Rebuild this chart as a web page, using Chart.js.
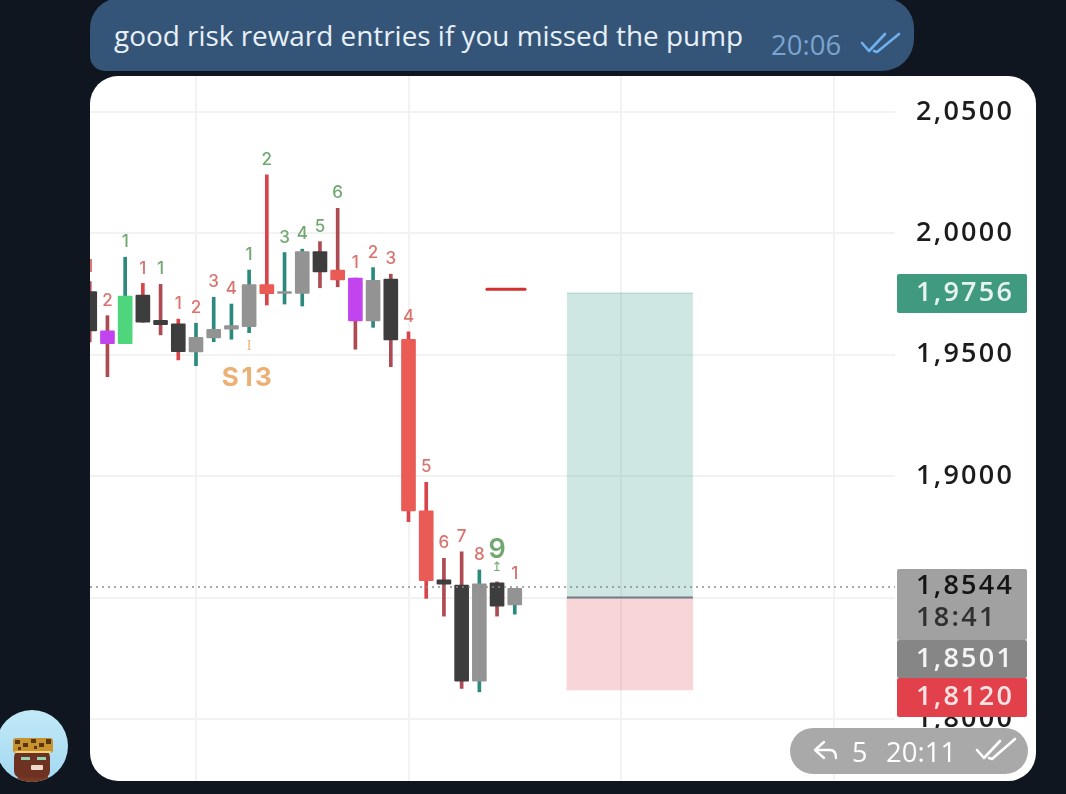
<!DOCTYPE html>
<html>
<head>
<meta charset="utf-8">
<title>good risk reward entries</title>
<script src="https://cdn.jsdelivr.net/npm/chart.js@4"></script>
<style>
html, body { margin: 0; padding: 0; width: 1066px; height: 794px; overflow: hidden; background: #10161f; }
.abs { position: absolute; white-space: nowrap; }
#bubble { left: 90px; top: -2px; width: 824px; height: 73px; background: #345578; border-radius: 30px 30px 32px 15px; }
#message { left: 114px; top: 14px; font: 400 27.9px "Open Sans", sans-serif; color: #e8f0f8; line-height: 42px; }
#sentTime { left: 771px; top: 25px; font: 400 27.5px "Open Sans", sans-serif; color: #7ba5d0; line-height: 40px; }
#card { left: 90px; top: 76px; width: 946px; height: 705px; background: #fff; border-radius: 28px; overflow: hidden; }
#card canvas { display: block; }
#pill { left: 790px; top: 728px; width: 238px; height: 46px; background: #a9a9a9; border-radius: 23px; }
#replyCount { left: 852px; top: 731px; font: 400 27px "Open Sans", sans-serif; color: #fff; line-height: 42px; }
#replyTime { left: 886px; top: 731px; font: 400 27.5px "Open Sans", sans-serif; color: #fff; line-height: 42px; }
svg.abs { overflow: visible; }
</style>
</head>
<body>
<div class="abs" id="bubble"></div>
<div class="abs" id="message">good risk reward entries if you missed the pump</div>
<div class="abs" id="sentTime">20:06</div>
<svg class="abs" style="left:0;top:0" width="1066" height="794" fill="none" stroke-linecap="round" stroke-linejoin="round">
  <path d="M862 43 L869 51 L885 34 M874 51 L877 52 L899 34" stroke="#6fb1ee" stroke-width="2.6"/>
  <defs>
    <clipPath id="face"><circle cx="32" cy="746" r="36"/></clipPath>
    <linearGradient id="sky" x1="0" y1="0" x2="0" y2="1"><stop offset="0" stop-color="#c2e9f8"/><stop offset="1" stop-color="#a3d8f0"/></linearGradient>
  </defs>
  <circle cx="32" cy="746" r="36" fill="url(#sky)"/>
  <g clip-path="url(#face)" stroke="none">
    <path d="M16 782 L20 772 L46 772 L50 782 Z" fill="#7a3a22"/>
    <rect x="14" y="750" width="36" height="28" rx="7" fill="#6e3222"/>
    <rect x="13" y="738" width="40" height="15" rx="3" fill="#c8922e"/>
    <path d="M15 740 h5 v4 h-5 Z M23 743 h5 v4 h-5 Z M31 739 h5 v4 h-5 Z M39 743 h5 v4 h-5 Z M46 739 h5 v5 h-5 Z M18 747 h3 v3 h-3 Z M34 746 h3 v3 h-3 Z" fill="#5a3512"/>
    <rect x="15" y="751" width="36" height="2" fill="#f0d27a"/>
    <rect x="21" y="757" width="9" height="3" fill="#8fd6b4"/>
    <rect x="37" y="757" width="9" height="3" fill="#8fd6b4"/>
    <rect x="31" y="765" width="12" height="5" rx="1" fill="#efd9c8"/>
  </g>
</svg>
<div class="abs" id="card"><canvas id="tradeChart"></canvas></div>
<div class="abs" id="pill"></div>
<svg class="abs" style="left:0;top:0" width="1066" height="794" fill="none" stroke="#fff" stroke-linecap="round" stroke-linejoin="round">
  <path d="M824 742 L815 750 L824 758 M815 750 H830 Q836 750 836 758" stroke-width="2.4"/>
  <path d="M977 750 L984 758 L1000 741 M989 758 L992 759 L1015 739" stroke-width="2.6"/>
</svg>
<div class="abs" id="replyCount">5</div>
<div class="abs" id="replyTime">20:11</div>

<script>
// sequence candles
var candleIndex = [0, 1, 2, 3, 4, 5, 6, 7, 8, 9, 10, 11, 12, 13, 14, 15, 16, 17, 18, 19, 20, 21, 22, 23, 24];
var wickHigh = [1.9801, 1.9661, 1.9902, 1.9794, 1.9790, 1.9647, 1.9630, 1.9737, 1.9709, 1.9849, 2.0241, 1.9921, 1.9935,
    1.9966, 2.0103, 1.9816, 1.9859, 1.9832, 1.9595, 1.8975, 1.8662, 1.8689, 1.8614, 1.8565, 1.8538];
var bodyHigh = [1.9760, 1.9599, 1.9742, 1.9746, 1.9642, 1.9628, 1.9572, 1.9605, 1.9620, 1.9789, 1.9789, 1.9760, 1.9925,
    1.9925, 1.9849, 1.9816, 1.9807, 1.9812, 1.9564, 1.8858, 1.8573, 1.8552, 1.8557, 1.8561, 1.8538];
var bodyLow = [1.9598, 1.9546, 1.9546, 1.9634, 1.9624, 1.9513, 1.9512, 1.9569, 1.9606, 1.9616, 1.9752, 1.9753, 1.9753,
    1.9841, 1.9808, 1.9640, 1.9640, 1.9561, 1.8857, 1.8570, 1.8555, 1.8156, 1.8156, 1.8465, 1.8470];
var wickLow = [1.9553, 1.9410, 1.9546, 1.9634, 1.9582, 1.9479, 1.9455, 1.9554, 1.9564, 1.9591, 1.9705, 1.9709, 1.9701,
    1.9776, 1.9780, 1.9523, 1.9613, 1.9451, 1.8813, 1.8497, 1.8424, 1.8126, 1.8112, 1.8424, 1.8432];
var bodyKinds = ["dark", "magenta", "green", "dark", "dark", "dark", "grey", "grey", "grey", "grey", "red", "grey", "grey",
    "dark", "red", "magenta", "grey", "dark", "red", "red", "dark", "dark", "grey", "dark", "grey"];
var wickKinds = ["brown", "brown", "teal", "red", "brown", "red", "teal", "teal", "teal", "teal", "red", "teal", "teal",
    "brown", "brown", "brown", "teal", "brown", "red", "red", "brown", "brown", "teal", "brown", "teal"];
var seqLabels = ["1", "2", "1", "1", "1", "1", "2", "3", "4", "1", "2", "3", "4", "5", "6", "1", "2", "3", "4", "5", "6", "7", "8", "9", "1"];
var seqKinds = ["r", "r", "g", "r", "g", "r", "r", "r", "r", "g", "g", "g", "g", "g", "g", "r", "r", "r", "r", "r", "r", "r", "r", "g", "r"];

var tickValues = [2.05, 2.00, 1.95, 1.90, 1.85, 1.80];
var gridIndex = [6, 18, 30, 42];

var targetPrice = 1.9756;
var entryPrice = 1.8501;
var stopPrice = 1.8120;
var lastPrice = 1.8544;
var countdown = "18:41";
var positionIndex = 30.5;
var orderPrice = 1.9770;
var orderFrom = 22.43;
var orderTo = 24.58;

var tagValues = [targetPrice, lastPrice, entryPrice, stopPrice];

// styles
var bodyColors = { dark: "#3d3d3d", magenta: "#c244ee", green: "#4fd67c", grey: "#939393", red: "#ea5b55" };
var wickColors = { brown: "#ad4a52", teal: "#2c8a7c", red: "#d9434a" };
var seqColors = { r: "#d8736e", g: "#71a871" };
var tagBoxes = [
    { top: 198, h: 39, bg: "#3f9a80", fg: "#e8f3ef" },
    { top: 493, h: 71, bg: "#a1a1a1", fg: "#141414" },
    { top: 564, h: 38, bg: "#868686", fg: "#f4f4f4" },
    { top: 602, h: 39, bg: "#e2414b", fg: "#fbe3e4" }
];
var AXIS_FONT = "600 27px 'Open Sans', sans-serif";
var AXIS_SPACING = "2.3px";

var canvas = document.getElementById("tradeChart");
canvas.width = 946;
canvas.height = 705;

function priceText(v) {
    return v.toFixed(4).replace(".", ",");
}

function pick(kinds, colors) {
    return kinds.map(function (k) { return colors[k]; });
}

// letter spacing for the price axis, the ios screenshot font runs wide
var spacingPlugin = {
    id: "spacing",
    beforeDraw: function (chart) {
        chart.ctx.letterSpacing = AXIS_SPACING;
    }
};

var labelPlugin = {
    id: "seqLabels",
    afterDatasetsDraw: function (chart) {
        var ctx = chart.ctx, xs = chart.scales.x, ys = chart.scales.y;
        ctx.save();
        ctx.letterSpacing = "0px";
        ctx.textAlign = "center";
        ctx.textBaseline = "middle";
        candleIndex.forEach(function (c, n) {
            var x = xs.getPixelForValue(c), y = ys.getPixelForValue(wickHigh[n]);
            ctx.fillStyle = seqColors[seqKinds[n]];
            if (seqLabels[n] === "9") {
                ctx.font = "600 27px Inter, sans-serif";
                ctx.fillText("9", x, y - 32);
                ctx.font = "13px 'DejaVu Sans'";
                ctx.fillText("\u21A5", x, y - 14);
            } else {
                ctx.font = "500 17px Inter, sans-serif";
                ctx.fillText(seqLabels[n], x, y - 15);
            }
        });
        var setup = xs.getPixelForValue(candleIndex[9]);
        ctx.fillStyle = "#edb074";
        ctx.font = "14px 'Liberation Serif'";
        ctx.fillText("I", setup, ys.getPixelForValue(bodyLow[9]) + 20);
        ctx.letterSpacing = "2.5px";
        ctx.font = "700 26px Inter, sans-serif";
        ctx.fillText("S13", setup - 1, ys.getPixelForValue(bodyLow[9]) + 52);
        ctx.restore();
    }
};

var tagPlugin = {
    id: "priceTags",
    afterDraw: function (chart) {
        var ctx = chart.ctx, left = chart.chartArea.right + 2, w = 130;
        ctx.save();
        ctx.font = AXIS_FONT;
        ctx.letterSpacing = AXIS_SPACING;
        ctx.textAlign = "left";
        ctx.textBaseline = "middle";
        tagValues.forEach(function (v, n) {
            var box = tagBoxes[n];
            ctx.fillStyle = box.bg;
            ctx.beginPath();
            ctx.roundRect(left, box.top, w, box.h, 2);
            ctx.fill();
            ctx.fillStyle = box.fg;
            if (box.h > 50) {
                ctx.fillText(priceText(v), left + 19, box.top + 17);
                ctx.fillStyle = "#303030";
                ctx.fillText(countdown, left + 19, box.top + 49);
            } else {
                ctx.fillText(priceText(v), left + 19, box.top + box.h / 2);
            }
        });
        ctx.restore();
    }
};

new Chart(canvas.getContext("2d"), {
    data: {
        datasets: [
            {
                type: "line",
                data: [{ x: -1, y: lastPrice }, { x: 47, y: lastPrice }],
                borderColor: "#8c8c8c",
                borderWidth: 1.5,
                borderDash: [2, 4],
                pointRadius: 0,
                order: 1
            },
            {
                type: "line",
                data: [{ x: orderFrom, y: orderPrice }, { x: orderTo, y: orderPrice }],
                borderColor: "#d2322d",
                borderWidth: 3,
                borderCapStyle: "round",
                pointRadius: 0,
                order: 2
            },
            {
                type: "bar",
                data: candleIndex.map(function (c, n) { return { x: c, y: [bodyLow[n], bodyHigh[n]] }; }),
                backgroundColor: pick(bodyKinds, bodyColors),
                barThickness: 14,
                borderRadius: 1,
                borderSkipped: false,
                order: 3
            },
            {
                type: "bar",
                data: candleIndex.map(function (c, n) { return { x: c, y: [wickLow[n], wickHigh[n]] }; }),
                backgroundColor: pick(wickKinds, wickColors),
                barThickness: 3,
                order: 4
            },
            {
                type: "line",
                data: [{ x: positionIndex - 3.55, y: entryPrice }, { x: positionIndex + 3.55, y: entryPrice }],
                borderColor: "#6f7b85",
                borderWidth: 2,
                pointRadius: 0,
                order: 5
            },
            {
                type: "bar",
                data: [{ x: positionIndex, y: [entryPrice, targetPrice] }],
                backgroundColor: "rgba(64, 160, 138, 0.25)",
                borderColor: "rgba(64, 160, 138, 0.25)",
                borderWidth: { top: 1, left: 0, right: 0, bottom: 0 },
                borderSkipped: false,
                barThickness: 126,
                order: 6
            },
            {
                type: "bar",
                data: [{ x: positionIndex, y: [stopPrice, entryPrice] }],
                backgroundColor: "rgba(226, 90, 100, 0.25)",
                barThickness: 126,
                order: 6
            }
        ]
    },
    options: {
        responsive: false,
        animation: false,
        events: [],
        layout: { padding: 0 },
        datasets: { bar: { grouped: false } },
        plugins: {
            legend: { display: false },
            tooltip: { enabled: false },
            title: { display: false }
        },
        scales: {
            x: {
                type: "linear",
                offset: false,
                min: 0.015,
                max: 45.47,
                afterBuildTicks: function (axis) {
                    axis.ticks = gridIndex.map(function (v) { return { value: v }; });
                },
                afterFit: function (axis) {
                    axis.paddingLeft = 0;
                    axis.paddingRight = 0;
                    axis.height = 0;
                },
                ticks: { display: false },
                grid: { color: "#f2f2f2", lineWidth: 2, drawTicks: false, offset: false },
                border: { display: false }
            },
            y: {
                position: "right",
                min: 1.7745,
                max: 2.0648,
                afterBuildTicks: function (axis) {
                    axis.ticks = tickValues.map(function (v) { return { value: v }; });
                },
                afterFit: function (axis) {
                    axis.width = 141;
                    axis.paddingTop = 0;
                    axis.paddingBottom = 0;
                },
                ticks: {
                    padding: 0,
                    color: "#1c1c1c",
                    font: { family: "'Open Sans', sans-serif", size: 27, weight: "600" },
                    callback: function (v) { return priceText(v); }
                },
                grid: { color: "#f2f2f2", lineWidth: 2, tickLength: 21, tickColor: "rgba(0,0,0,0)" },
                border: { display: false }
            }
        }
    },
    plugins: [spacingPlugin, labelPlugin, tagPlugin]
});
</script>
</body>
</html>
